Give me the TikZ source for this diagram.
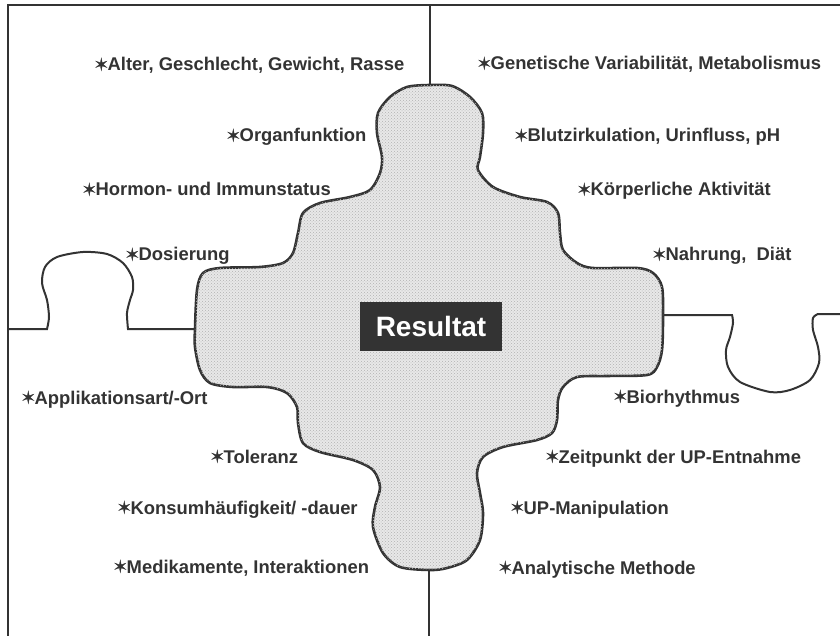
\documentclass[tikz,border=0pt]{standalone}
\usepackage{fontspec}
\setmainfont{Liberation Sans}
\newfontfamily\symfont[FakeBold=1.5]{DejaVu Sans}
\usepackage{tikz}
\usetikzlibrary{calc,patterns,positioning}

\definecolor{ink}{HTML}{333333}
\newcommand{\pkt}{\makebox[13.5pt][l]{\raisebox{0.5pt}{\symfont\fontsize{17}{17}\selectfont ✶}}}

\begin{document}
\begin{tikzpicture}[x=1pt, y=-1pt,
	frame/.style = {draw = ink, line width = 2pt},
	blob/.style = {draw = ink, line width = 2.6pt, fill = black!9,
		postaction = {pattern = crosshatch dots, pattern color = black!30}},
	lbl/.style = {anchor = base west, inner sep = 0pt, text = ink,
		font = \bfseries\fontsize{18.4}{20}\selectfont}]
\useasboundingbox (0,0) rectangle (840,636);

% puzzle frame
\draw[frame] (8,636) -- (8,5) -- (840,5);
\draw[frame] (430,5) -- (430,90);
\draw[frame] (429,565) -- (429,636);
\draw[frame] (8,329) -- plot[smooth] coordinates {(47,329) (49,317) (47,300) (42,283) (45,267)
	(57,257) (83,252) (107,254) (123,263) (132,277) (133,290) (130,300) (127,313) (128,329)}
	-- (200,329);
\draw[frame] (658,315) -- plot[smooth] coordinates {(732,315) (733,323) (730,337) (726,350)
	(728,367) (740,382) (770,392) (790,390) (810,380) (819,363) (818,347) (813,330) (813,318)
	(818,314)} -- (840,314);

% middle piece
\path[blob] plot[smooth cycle, tension = 0.5] coordinates {
	(430,85) (452,86) (470,97) (482,113) (483,133) (480,157) (478,170) (493,187) (520,197)
	(547,202) (558,213) (560,233) (563,250) (577,263) (593,268) (637,268) (653,273) (662,287)
	(663,317) (662,350) (657,367) (647,375) (607,376) (577,377) (563,387) (558,400) (557,420)
	(552,433) (537,440) (503,447) (483,457) (477,473) (480,493) (483,513) (480,540) (467,560)
	(447,568) (430,570) (400,567) (383,553) (373,527) (375,507) (380,487) (373,470) (353,460)
	(320,452) (303,443) (298,423) (297,407) (287,393) (267,387) (233,387) (210,383) (200,370)
	(195,347) (195,329) (197,290) (203,273) (220,268) (260,267) (283,263) (293,253) (298,233)
	(303,213) (320,203) (350,197) (370,190) (380,173) (382,157) (377,133) (378,113) (390,97)
	(407,87)};

\node[fill = ink, text = white, minimum width = 142, minimum height = 49, inner sep = 0pt,
	font = \bfseries\fontsize{28}{30}\selectfont] (res) at (431,326.5) {Resultat};

% left side
\node[lbl] (alter) at (94,71) {\pkt Alter, Geschlecht, Gewicht, Rasse};
\node[lbl] (organ) at (226,142) {\pkt Organfunktion};
\node[lbl] (hormon) at (82,196) {\pkt Hormon- und Immunstatus};
\node[lbl] (dosis) at (125,261) {\pkt Dosierung};
\node[lbl] (appl) at (21,404) {\pkt Applikationsart/-Ort};
\node[lbl] (toler) at (210,463) {\pkt Toleranz};
\node[lbl] (konsum) at (117,514) {\pkt Konsumhäufigkeit/ -dauer};
\node[lbl] (medi) at (113,573) {\pkt Medikamente, Interaktionen};

% right side
\node[lbl] (genet) at (477,70) {\pkt Genetische Variabilität, Metabolismus};
\node[lbl] (blut) at (514,142) {\pkt Blutzirkulation, Urinfluss, pH};
\node[lbl] (koerper) at (577,196) {\pkt Körperliche Aktivität};
\node[lbl] (nahrung) at (652,261) {\pkt Nahrung,\ \ Diät};
\node[lbl] (bio) at (613,403) {\pkt Biorhythmus};
\node[lbl] (zeit) at (545,463) {\pkt Zeitpunkt der UP-Entnahme};
\node[lbl] (manip) at (510,514) {\pkt UP-Manipulation};
\node[lbl] (analyt) at (498,574) {\pkt Analytische Methode};
\end{tikzpicture}
\end{document}
